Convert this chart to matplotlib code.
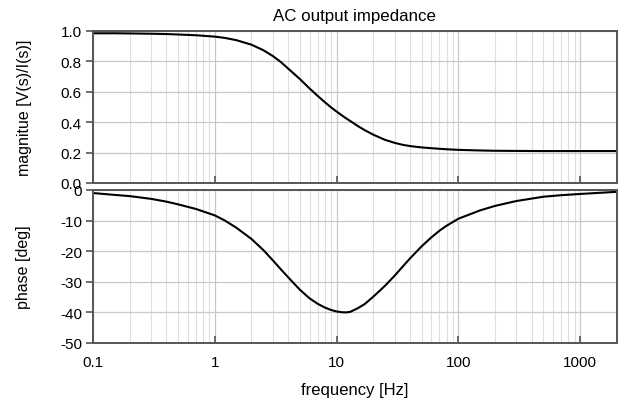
import matplotlib
matplotlib.use("Agg")
import matplotlib.pyplot as plt
from matplotlib.ticker import FixedLocator, LogLocator, NullFormatter

plt.rcParams["font.family"] = ["Liberation Sans", "DejaVu Sans"]

# values
freq = [0.1, 0.15, 0.2, 0.3, 0.4, 0.5, 0.7, 1, 1.2, 1.5, 2, 2.5, 3, 3.5, 4,
        5, 6, 7, 8, 9, 10, 11, 12, 13, 15, 17, 20, 25, 30, 35, 40, 50, 60,
        70, 80, 100, 150, 200, 300, 500, 700, 1000, 2000]
magnitude = [0.985, 0.985, 0.984, 0.982, 0.980, 0.977, 0.972, 0.963, 0.955,
             0.940, 0.910, 0.874, 0.835, 0.795, 0.753, 0.684, 0.622, 0.573,
             0.532, 0.498, 0.470, 0.446, 0.425, 0.407, 0.374, 0.348, 0.318,
             0.284, 0.264, 0.251, 0.243, 0.234, 0.229, 0.225, 0.222, 0.218,
             0.214, 0.212, 0.211, 0.210, 0.210, 0.210, 0.210]
phase = [-1.0, -1.6, -2.0, -2.9, -3.8, -4.7, -6.2, -8.3, -9.9, -12.3, -16.0,
         -19.6, -23.0, -26.0, -28.5, -32.6, -35.4, -37.2, -38.4, -39.2, -39.7,
         -39.95, -40.0, -39.8, -38.6, -37.3, -34.9, -31.3, -28.0, -25.0, -22.4,
         -18.4, -15.5, -13.3, -11.7, -9.4, -6.7, -5.2, -3.6, -2.2, -1.7, -1.3,
         -0.6]

mag_ticks = [0.0, 0.2, 0.4, 0.6, 0.8, 1.0]
phase_ticks = [-50, -40, -30, -20, -10, 0]
freq_ticks = [0.1, 1, 10, 100, 1000]
freq_labels = ["0.1", "1", "10", "100", "1000"]

fig = plt.figure(figsize=(6.18, 4.02), dpi=100)
ax1 = fig.add_axes([0.1505, 0.5423, 0.8475, 0.3781])
ax2 = fig.add_axes([0.1505, 0.1443, 0.8475, 0.3806])

spine_col = "#555555"
for ax in (ax1, ax2):
    ax.set_xscale("log")
    ax.set_xlim(0.1, 2000)
    ax.xaxis.set_major_locator(FixedLocator(freq_ticks))
    ax.xaxis.set_minor_locator(LogLocator(base=10, subs=range(2, 10)))
    ax.xaxis.set_minor_formatter(NullFormatter())
    ax.grid(True, which="major", color="#c8c8c8", linewidth=0.9)
    ax.grid(True, which="minor", axis="x", color="#dedede", linewidth=0.8)
    ax.set_axisbelow(True)
    for s in ax.spines.values():
        s.set_color(spine_col)
        s.set_linewidth(1.4)
    ax.tick_params(axis="x", which="major", direction="in", length=5, width=1.2,
                   color=spine_col, labelsize=11)
    ax.tick_params(axis="x", which="minor", length=0)
    ax.tick_params(axis="y", direction="out", length=5, width=1.2,
                   color=spine_col, labelsize=11, pad=3)

ax1.plot(freq, magnitude, color="black", linewidth=1.5)
ax1.set_ylim(0, 1.0)
ax1.set_yticks(mag_ticks)
ax1.set_yticklabels([f"{v:.1f}" for v in mag_ticks])
ax1.set_xticklabels([])
ax1.set_ylabel("magnitue [V(s)/I(s)]", fontsize=11.5, labelpad=21)
ax1.set_title("AC output impedance", fontsize=12.2, pad=8)

ax2.plot(freq, phase, color="black", linewidth=1.5)
ax2.set_ylim(-50, 0)
ax2.set_yticks(phase_ticks)
ax2.set_yticklabels([str(v) for v in phase_ticks])
ax2.set_xticklabels(freq_labels)
ax2.tick_params(axis="x", which="major", pad=9)
ax2.set_ylabel("phase [deg]", fontsize=11.5, labelpad=21)
ax2.set_xlabel("frequency [Hz]", fontsize=12, labelpad=9)

fig.savefig("out.png", dpi=100)
